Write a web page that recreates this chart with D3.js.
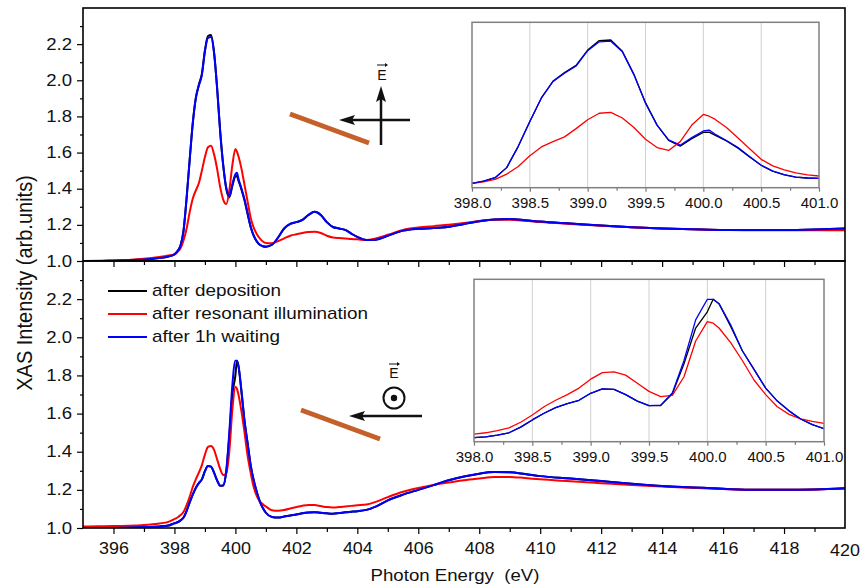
<!DOCTYPE html>
<html><head><meta charset="utf-8">
<script src="https://cdn.jsdelivr.net/npm/d3@7"></script>
<style>
html,body{margin:0;padding:0;background:#fff;}
svg{display:block;font-family:"Liberation Sans",Arial,sans-serif;}
.sx-end{transform-box:fill-box;transform-origin:right center;transform:scaleX(1.16);}
.sx-mid{transform-box:fill-box;transform-origin:center center;transform:scaleX(1.12);}
.sx-start{transform-box:fill-box;transform-origin:left center;transform:scaleX(1.18);}
.sx-title{transform-box:fill-box;transform-origin:center center;transform:scaleX(1.13);}
</style></head>
<body><svg id="c" width="862" height="587"></svg>
<script>
// ---------- DATA ----------
const energy = [395,395.5,396,396.5,397,397.5,397.8,
 398.0,398.1,398.2,398.3,398.4,398.5,398.6,398.7,398.8,398.9,399.0,399.1,399.2,399.3,399.4,399.5,399.6,399.7,399.8,399.9,400.0,400.05,
 400.1,400.2,400.3,400.4,400.5,400.6,400.7,400.8,400.9,401.0,
 401.2,401.4,401.6,401.8,402.0,402.2,402.4,402.6,402.8,403.0,403.2,403.4,403.6,403.8,404.0,
 404.3,404.6,405.0,405.5,406.0,406.5,407.0,407.5,408.0,408.5,409.0,409.5,
 410,411,412,413,414,415,416,417,418,419,420];

// top panel (E in plane)
const topDeposition = [1.000,1.000,1.002,1.004,1.008,1.016,1.025,
 1.037,1.055,1.085,1.17,1.35,1.56,1.76,1.90,1.975,2.035,2.165,2.245,2.25,2.155,1.96,1.72,1.53,1.40,1.352,1.415,1.468,1.47,
 1.445,1.395,1.335,1.26,1.19,1.14,1.108,1.09,1.082,1.079,
 1.09,1.13,1.18,1.205,1.215,1.228,1.255,1.272,1.255,1.215,1.188,1.18,1.172,1.152,1.133,
 1.116,1.118,1.14,1.168,1.178,1.182,1.19,1.205,1.22,1.23,1.232,1.226,
 1.218,1.207,1.196,1.187,1.18,1.176,1.172,1.171,1.171,1.174,1.18];
const topIllumination = [1.000,1.001,1.003,1.006,1.012,1.022,1.030,
 1.037,1.05,1.07,1.115,1.18,1.27,1.345,1.39,1.43,1.50,1.575,1.63,1.638,1.59,1.51,1.41,1.34,1.315,1.39,1.53,1.62,1.605,
 1.58,1.51,1.42,1.33,1.24,1.185,1.15,1.125,1.108,1.099,
 1.098,1.11,1.125,1.14,1.148,1.155,1.16,1.162,1.155,1.14,1.13,1.127,1.125,1.122,1.12,
 1.116,1.125,1.145,1.172,1.185,1.193,1.2,1.21,1.222,1.228,1.228,1.223,
 1.216,1.205,1.195,1.187,1.18,1.175,1.172,1.17,1.17,1.17,1.17];
const topWaiting = [1.000,1.000,1.002,1.004,1.008,1.016,1.025,
 1.037,1.055,1.085,1.17,1.35,1.56,1.76,1.90,1.97,2.03,2.16,2.235,2.24,2.15,1.955,1.715,1.53,1.405,1.36,1.425,1.48,1.488,
 1.455,1.40,1.34,1.265,1.19,1.14,1.11,1.09,1.082,1.079,
 1.09,1.13,1.18,1.205,1.215,1.228,1.255,1.272,1.255,1.215,1.188,1.18,1.172,1.152,1.133,
 1.116,1.118,1.14,1.168,1.178,1.182,1.19,1.205,1.22,1.23,1.232,1.226,
 1.218,1.207,1.196,1.187,1.18,1.176,1.172,1.171,1.171,1.174,1.18];

// bottom panel (E out of plane)
const botDeposition = [0.998,0.999,1.000,1.002,1.005,1.008,1.013,
 1.025,1.03,1.04,1.055,1.09,1.134,1.175,1.21,1.235,1.255,1.298,1.325,1.322,1.29,1.25,1.222,1.222,1.295,1.48,1.70,1.80,1.877,
 1.85,1.71,1.56,1.445,1.33,1.25,1.19,1.14,1.105,1.08,
 1.058,1.055,1.06,1.066,1.071,1.077,1.081,1.083,1.08,1.077,1.075,1.078,1.082,1.085,1.088,
 1.095,1.112,1.145,1.175,1.2,1.225,1.25,1.27,1.285,1.293,1.292,1.283,
 1.272,1.26,1.246,1.232,1.22,1.213,1.206,1.2,1.2,1.202,1.208];
const botIllumination = [1.008,1.009,1.010,1.012,1.016,1.024,1.032,
 1.047,1.055,1.068,1.085,1.12,1.164,1.215,1.255,1.29,1.33,1.385,1.425,1.43,1.41,1.36,1.31,1.278,1.285,1.40,1.62,1.739,1.73,
 1.70,1.61,1.50,1.38,1.29,1.215,1.168,1.14,1.125,1.113,
 1.093,1.09,1.094,1.102,1.11,1.117,1.121,1.12,1.115,1.11,1.108,1.11,1.113,1.116,1.119,
 1.123,1.137,1.162,1.19,1.21,1.226,1.238,1.25,1.259,1.267,1.268,1.262,
 1.255,1.245,1.235,1.225,1.217,1.211,1.205,1.2,1.2,1.202,1.207];
const botWaiting = [0.998,0.999,1.000,1.002,1.005,1.008,1.013,
 1.025,1.03,1.04,1.055,1.09,1.134,1.175,1.21,1.235,1.255,1.298,1.325,1.322,1.29,1.25,1.222,1.225,1.30,1.50,1.75,1.877,1.877,
 1.85,1.72,1.56,1.445,1.33,1.25,1.19,1.14,1.105,1.08,
 1.058,1.055,1.06,1.066,1.071,1.077,1.081,1.083,1.08,1.077,1.075,1.078,1.082,1.085,1.088,
 1.095,1.112,1.145,1.175,1.2,1.225,1.25,1.27,1.285,1.293,1.292,1.283,
 1.272,1.26,1.246,1.232,1.22,1.213,1.206,1.2,1.2,1.202,1.208];

const seriesNames = ["after deposition","after resonant illumination","after 1h waiting"];
const seriesColors = ["#000000","#ff0000","#0000ff"];
const xMajorTicks = [396,398,400,402,404,406,408,410,412,414,416,418,420];
const xMinorTicks = [395,397,399,401,403,405,407,409,411,413,415,417,419];
const yMajorTicks = [1.0,1.2,1.4,1.6,1.8,2.0,2.2];
const yMinorTicks = [1.1,1.3,1.5,1.7,1.9,2.1,2.3];
const insetTicks = [398.0,398.5,399.0,399.5,400.0,400.5,401.0];
const insetMinorTicks = [398.25,398.75,399.25,399.75,400.25,400.75];

// ---------- CHART ----------
const svg = d3.select("#c");
const FONT = '"Liberation Sans",Arial,sans-serif';
const x = d3.scaleLinear([395,420],[83,845]);
const yTop = d3.scaleLinear([1,2.4],[261,8]);
const yBot = d3.scaleLinear([1,2.4],[528,261]);

const topSeries = [topDeposition, topIllumination, topWaiting];
const botSeries = [botDeposition, botIllumination, botWaiting];

function styleAxis(g, color, fs, cls){
  g.select(".domain").remove();
  g.selectAll("line").attr("stroke", color).attr("stroke-width",1.2);
  g.selectAll("text").attr("fill","#111").attr("font-size",fs).attr("font-family",FONT);
  if(cls) g.selectAll("text").attr("class",cls);
}

function panel(y, series, id, labelsX){
  const y0 = y.range()[0], y1 = y.range()[1];
  svg.append("clipPath").attr("id",id).append("rect")
    .attr("x",83).attr("y",y1).attr("width",845-83).attr("height",y0-y1);
  const g = svg.append("g").attr("clip-path",`url(#${id})`);
  series.forEach((vals,i)=>{
    const line = d3.line().curve(d3.curveMonotoneX)
      .x((d,j)=>x(energy[j])).y(d=>y(d));
    g.append("path").datum(vals).attr("d",line)
      .attr("fill","none").attr("stroke",seriesColors[i]).attr("stroke-width",2)
      .attr("stroke-linejoin","round");
  });
  // left axis
  svg.append("g").attr("transform","translate(83,0)")
    .call(d3.axisLeft(y).tickValues(yMajorTicks).tickSize(6).tickPadding(5).tickFormat(d3.format(".1f")))
    .call(a=>styleAxis(a,"#000","16px","sx-end"));
  svg.append("g").attr("transform","translate(83,0)")
    .call(d3.axisLeft(y).tickValues(yMinorTicks).tickSize(3).tickFormat(""))
    .call(a=>styleAxis(a,"#000","16px"));
  // bottom axis
  svg.append("g").attr("transform",`translate(0,${y0})`)
    .call(d3.axisBottom(x).tickValues(xMajorTicks.filter(v=>v<420)).tickSize(6).tickPadding(9)
      .tickFormat(labelsX ? d3.format("d") : ""))
    .call(a=>styleAxis(a,"#000","16px","sx-mid"));
  svg.append("g").attr("transform",`translate(0,${y0})`)
    .call(d3.axisBottom(x).tickValues(xMinorTicks.filter(v=>v>395)).tickSize(4).tickFormat(""))
    .call(a=>styleAxis(a,"#000","16px"));
  if(labelsX){
    svg.append("text").attr("class","sx-mid").attr("x",x(420)).attr("y",y0+6+9+13).attr("text-anchor","middle")
      .attr("font-size","16px").attr("fill","#111").text("420");
  }
  // frame
  svg.append("rect").attr("x",83).attr("y",y1).attr("width",845-83).attr("height",y0-y1)
    .attr("fill","none").attr("stroke","#000").attr("stroke-width",1.6);
}

function inset(xr, yr, ydom, series, id){
  const xi = d3.scaleLinear([398,401], xr);
  const yi = d3.scaleLinear(ydom, yr);
  const [xa,xb] = xr, [ya,yb] = yr; // ya bottom, yb top
  svg.append("rect").attr("x",xa).attr("y",yb).attr("width",xb-xa).attr("height",ya-yb).attr("fill","#fff");
  svg.append("g").selectAll("line").data(insetTicks.slice(1,-1)).join("line")
    .attr("x1",d=>xi(d)).attr("x2",d=>xi(d)).attr("y1",yb).attr("y2",ya)
    .attr("stroke","#d0d0d0").attr("stroke-width",1);
  svg.append("clipPath").attr("id",id).append("rect")
    .attr("x",xa).attr("y",yb).attr("width",xb-xa).attr("height",ya-yb);
  const g = svg.append("g").attr("clip-path",`url(#${id})`);
  const idx = energy.map((e,j)=>j).filter(j=>energy[j]>=397.8 && energy[j]<=401.2);
  series.forEach((vals,i)=>{
    const line = d3.line().x(j=>xi(energy[j])).y(j=>yi(vals[j]));
    g.append("path").datum(idx).attr("d",line)
      .attr("fill","none").attr("stroke",seriesColors[i]).attr("stroke-width",1.3)
      .attr("stroke-linejoin","round");
  });
  svg.append("g").attr("transform",`translate(0,${ya})`)
    .call(d3.axisBottom(xi).tickValues(insetTicks).tickSize(4).tickPadding(6).tickFormat(d3.format(".1f")))
    .call(a=>styleAxis(a,"#777","15px"));
  svg.append("g").attr("transform",`translate(0,${ya})`)
    .call(d3.axisBottom(xi).tickValues(insetMinorTicks).tickSize(3).tickFormat(""))
    .call(a=>styleAxis(a,"#777","15px"));
  svg.append("rect").attr("x",xa).attr("y",yb).attr("width",xb-xa).attr("height",ya-yb)
    .attr("fill","none").attr("stroke","#808080").attr("stroke-width",1.5);
}

panel(yTop, topSeries, "clipTop", false);
panel(yBot, botSeries, "clipBot", true);
inset([472,819],[187.7,22.3],[1,2.4],topSeries,"clipI1");
inset([474,824],[441.7,279.3],[1,2],botSeries,"clipI2");

// axis titles
svg.append("text").attr("transform","translate(32,283) rotate(-90) scale(1,1.1)").attr("text-anchor","middle")
  .attr("font-size","20px").attr("fill","#111").text("XAS Intensity (arb.units)");
svg.append("text").attr("class","sx-title").attr("x",455).attr("y",581).attr("text-anchor","middle")
  .attr("font-size","16.5px").attr("fill","#111").attr("xml:space","preserve").text("Photon Energy  (eV)");

// legend
const leg = svg.append("g");
seriesNames.forEach((n,i)=>{
  const yy = 291 + i*23;
  leg.append("line").attr("x1",108).attr("x2",147).attr("y1",yy).attr("y2",yy)
    .attr("stroke",seriesColors[i]).attr("stroke-width",2);
  leg.append("text").attr("class","sx-start").attr("x",152).attr("y",yy+5.5).attr("font-size","16px").attr("fill","#111").text(n);
});

// geometry icons
const brown = "#c4612b";
function arrowHead(x0,y0,dir){ // tip at x0,y0
  let pts;
  if(dir==="left") pts=[[x0,y0],[x0+16,y0-5],[x0+13,y0],[x0+16,y0+5]];
  else pts=[[x0,y0],[x0-5,y0+16],[x0,y0+13],[x0+5,y0+16]];
  svg.append("polygon").attr("points",pts.map(p=>p.join(",")).join(" ")).attr("fill","#111");
}
// top icon
svg.append("line").attr("x1",290).attr("y1",114).attr("x2",369).attr("y2",143).attr("stroke",brown).attr("stroke-width",5);
svg.append("line").attr("x1",410).attr("y1",120).attr("x2",350).attr("y2",120).attr("stroke","#111").attr("stroke-width",2.5);
arrowHead(339,120,"left");
svg.append("line").attr("x1",381).attr("y1",145).attr("x2",381).attr("y2",98).attr("stroke","#111").attr("stroke-width",2.5);
arrowHead(381,86,"up");
svg.append("text").attr("x",382).attr("y",80).attr("text-anchor","middle").attr("font-size","14px").attr("fill","#111").text("E");
svg.append("line").attr("x1",377).attr("x2",387).attr("y1",65).attr("y2",65).attr("stroke","#111").attr("stroke-width",1);
svg.append("polygon").attr("points","388,65 385,63 385,67").attr("fill","#111");
// bottom icon
svg.append("line").attr("x1",301).attr("y1",410).attr("x2",380).attr("y2",439).attr("stroke",brown).attr("stroke-width",5);
svg.append("line").attr("x1",422).attr("y1",416).attr("x2",360).attr("y2",416).attr("stroke","#111").attr("stroke-width",2.5);
arrowHead(349,416,"left");
svg.append("circle").attr("cx",394).attr("cy",398).attr("r",10.5).attr("fill","none").attr("stroke","#111").attr("stroke-width",2);
svg.append("circle").attr("cx",394).attr("cy",398).attr("r",3.2).attr("fill","#111");
svg.append("text").attr("x",394).attr("y",378).attr("text-anchor","middle").attr("font-size","14px").attr("fill","#111").text("E");
svg.append("line").attr("x1",389).attr("x2",399).attr("y1",364).attr("y2",364).attr("stroke","#111").attr("stroke-width",1);
svg.append("polygon").attr("points","400,364 397,362 397,366").attr("fill","#111");
</script></body></html>
